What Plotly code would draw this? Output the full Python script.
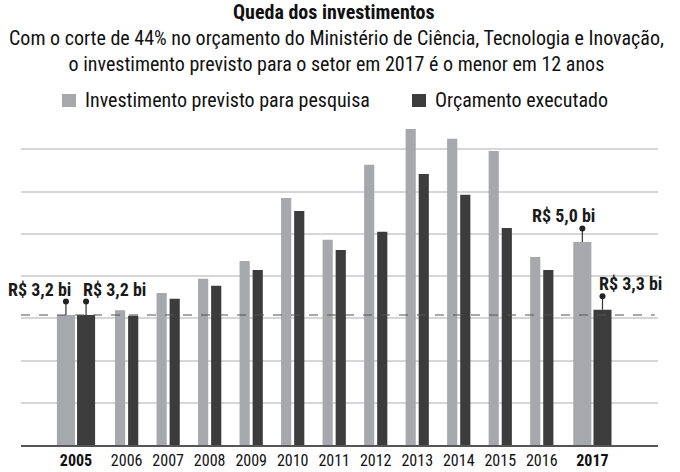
import plotly.graph_objects as go

years = ["2005", "2006", "2007", "2008", "2009", "2010", "2011", "2012",
         "2013", "2014", "2015", "2016", "2017"]
previsto = [3.2, 3.32, 3.74, 4.09, 4.53, 6.08, 5.05, 6.90, 7.78, 7.54, 7.24, 4.63, 5.0]
executado = [3.2, 3.18, 3.60, 3.92, 4.31, 5.76, 4.80, 5.25, 6.67, 6.16, 5.34, 4.31, 3.33]
tick_labels = ["<b>2005</b>", "2006", "2007", "2008", "2009", "2010", "2011", "2012",
               "2013", "2014", "2015", "2016", "<b>2017</b>"]
callout_labels = ["R$ 3,2 bi", "R$ 3,2 bi", "R$ 5,0 bi", "R$ 3,3 bi"]
ref_value = 3.2
series_names = ["Investimento previsto para pesquisa", "Orçamento executado"]
title_text = "Queda dos investimentos"
subtitle_lines = ["Com o corte de 44% no orçamento do Ministério de Ciência, Tecnologia e Inovação,",
                  "o investimento previsto para o setor em 2017 é o menor em 12 anos"]

GRAY = "#a7a8ab"
DARK = "#3c3c3c"
FONT = "Liberation Sans Narrow, Roboto Condensed, Liberation Sans, Arial"

W, H = 680, 472
ML, MR, MT, MB = 21, 22, 0, 27
PW, PH = W - ML - MR, H - MT - MB


def px_x(x):
    return (x - ML) / PW


def px_y(y):
    return (H - MB - y) / PH


n = len(years)
extra = 0.22
pos = [i + (extra if i > 0 else 0) + (extra if i == n - 1 else 0) for i in range(n)]

wide = {0, n - 1}
w_narrow, g_narrow = 0.245, 0.07
w_wide, g_wide = 0.435, 0.05
widths = [w_wide if i in wide else w_narrow for i in range(n)]
gaps = [g_wide if i in wide else g_narrow for i in range(n)]
off_gray = [-(w + g / 2) for w, g in zip(widths, gaps)]
off_dark = [g / 2 for g in gaps]

fig = go.Figure()
fig.add_trace(go.Bar(x=pos, y=previsto, width=widths, offset=off_gray,
                     marker=dict(color=GRAY, line=dict(width=0)),
                     name=series_names[0], showlegend=False))
fig.add_trace(go.Bar(x=pos, y=executado, width=widths, offset=off_dark,
                     marker=dict(color=DARK, line=dict(width=0)),
                     name=series_names[1], showlegend=False))

# callouts: (index, series values, offsets, label, anchor, shift)
stem = 0.33
callouts = [
    (0, previsto, off_gray, callout_labels[0], "right", 7),
    (0, executado, off_dark, callout_labels[1], "left", -5),
    (n - 1, previsto, off_gray, callout_labels[2], "center", -19),
    (n - 1, executado, off_dark, callout_labels[3], "left", -5),
]
ann = []
for i, vals, offs, txt, anchor, xs in callouts:
    xc = pos[i] + offs[i] + widths[i] / 2
    val = vals[i]
    fig.add_trace(go.Scatter(x=[xc, xc], y=[val, val + stem], mode="lines",
                             line=dict(color="#333333", width=1.2),
                             showlegend=False, hoverinfo="skip"))
    fig.add_trace(go.Scatter(x=[xc], y=[val + stem], mode="markers",
                             marker=dict(color="#222222", size=6),
                             showlegend=False, hoverinfo="skip"))
    ann.append(dict(x=xc, y=val + stem, text=f"<b>{txt}</b>", xref="x", yref="y",
                    xanchor=anchor, yanchor="bottom", xshift=xs, yshift=0, showarrow=False,
                    font=dict(family=FONT, size=18, color="#1a1a1a")))

# title and subtitle
ann.append(dict(text=f"<b>{title_text}</b>", x=px_x(334), y=px_y(12), xref="paper", yref="paper",
                xanchor="center", yanchor="middle", showarrow=False,
                font=dict(family=FONT, size=20, color="#111111")))
ann.append(dict(text="<br>".join(subtitle_lines), x=px_x(336), y=px_y(51), xref="paper", yref="paper",
                xanchor="center", yanchor="middle", showarrow=False,
                font=dict(family=FONT, size=20, color="#111111")))

# legend (manual)
shapes = []
leg = [(62, GRAY, series_names[0]), (412, DARK, series_names[1])]
for x0, col, name in leg:
    shapes.append(dict(type="rect", xref="paper", yref="paper",
                       x0=px_x(x0), x1=px_x(x0 + 14), y0=px_y(107), y1=px_y(94),
                       fillcolor=col, line=dict(width=0)))
    ann.append(dict(text=name, x=px_x(x0 + 21), y=px_y(100), xref="paper", yref="paper",
                    xanchor="left", yanchor="middle", showarrow=False,
                    font=dict(family=FONT, size=20, color="#111111")))

shapes.append(dict(type="line", xref="paper", x0=0, x1=0.995, yref="y", y0=ref_value, y1=ref_value,
                   line=dict(color="#555555", width=1.2, dash="dash"), layer="above"))

fig.update_layout(
    width=W, height=H,
    margin=dict(l=ML, r=MR, t=MT, b=MB, autoexpand=False),
    paper_bgcolor="white", plot_bgcolor="white",
    barmode="overlay",
    showlegend=False,
    annotations=ann,
    shapes=shapes,
    xaxis=dict(tickvals=pos, ticktext=tick_labels, range=[-1.325, 14.02],
               showgrid=False, showline=True, linecolor="#555555", linewidth=1.5,
               ticks="", tickfont=dict(family=FONT, size=16, color="#111111"),
               zeroline=False, automargin=False),
    yaxis=dict(domain=[0, px_y(120)], range=[0, 8], tick0=0, dtick=1.04, showgrid=True,
               gridcolor="#d6d6d6", gridwidth=1.5, showticklabels=False, zeroline=False,
               ticks="", automargin=False),
)

fig.write_html("out.html", config={"displayModeBar": False},
               post_script="document.body.style.margin='0';document.body.style.overflow='hidden';")
